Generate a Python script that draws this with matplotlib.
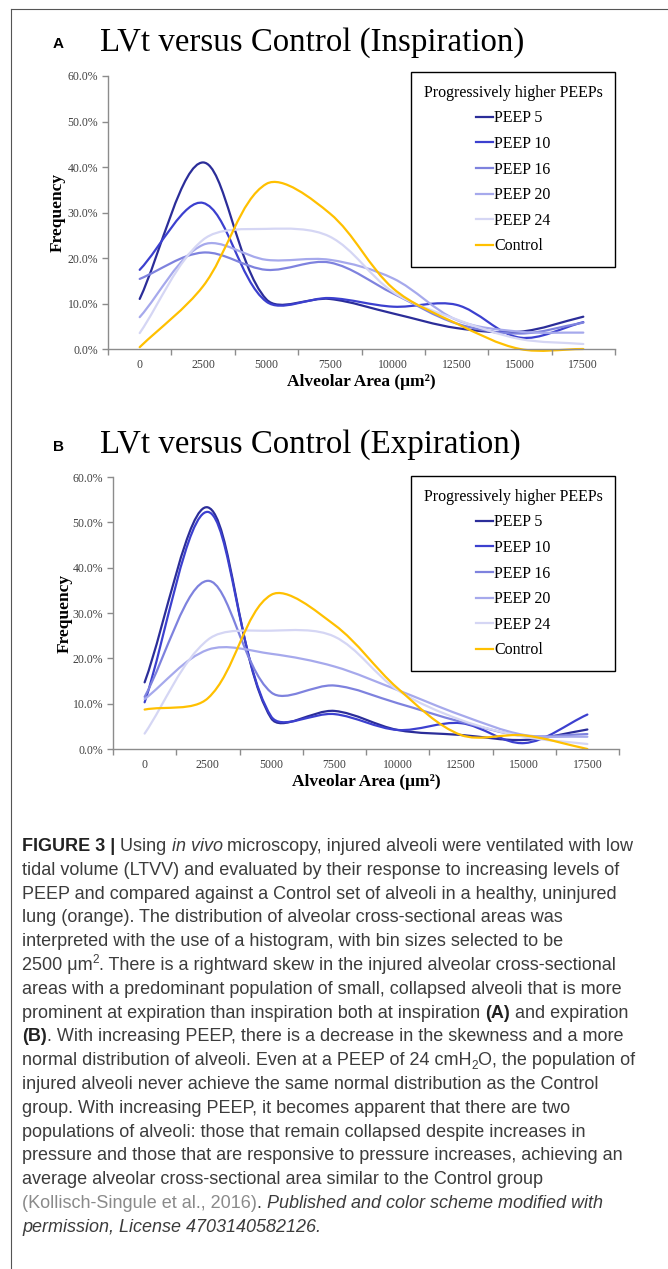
import matplotlib
matplotlib.use('Agg')
import matplotlib.pyplot as plt
from matplotlib.path import Path
from matplotlib.patches import PathPatch
from matplotlib.lines import Line2D
from matplotlib.font_manager import FontProperties
import numpy as np

W, H, DPI = 668, 1269, 100

# ---------------- data ----------------
categories = ['0', '2500', '5000', '7500', '10000', '12500', '15000', '17500']
series_names = ['PEEP 5', 'PEEP 10', 'PEEP 16', 'PEEP 20', 'PEEP 24', 'Control']
series_colors = ['#2B2D99', '#3C40CF', '#7E82DE', '#A6A9EC', '#D5D6F4', '#FFC000']
y_ticks = [0, 10, 20, 30, 40, 50, 60]

# Inspiration (A), frequency in %
insp_peep5 = [11.0, 41.0, 10.9, 11.0, 7.8, 4.6, 3.8, 7.1]
insp_peep10 = [17.4, 32.1, 10.4, 11.2, 9.3, 9.7, 2.5, 5.9]
insp_peep16 = [15.4, 21.2, 17.4, 19.0, 12.2, 5.6, 3.4, 5.8]
insp_peep20 = [7.0, 22.9, 19.6, 19.6, 15.5, 6.4, 3.8, 3.6]
insp_peep24 = [3.5, 24.0, 26.4, 24.7, 12.5, 6.5, 2.2, 1.1]
insp_control = [0.4, 13.8, 36.3, 29.8, 13.3, 5.6, 0.0, 0.0]

# Expiration (B), frequency in %
exp_peep5 = [14.7, 53.3, 6.8, 8.4, 4.2, 3.1, 2.0, 4.3]
exp_peep10 = [10.3, 52.3, 7.2, 7.7, 4.2, 5.7, 1.3, 7.6]
exp_peep16 = [11.5, 37.1, 12.5, 14.0, 10.1, 6.0, 2.9, 3.3]
exp_peep20 = [11.0, 21.9, 21.0, 18.2, 13.0, 7.5, 3.1, 2.7]
exp_peep24 = [3.4, 24.1, 26.1, 24.8, 13.0, 6.4, 2.7, 1.1]
exp_control = [8.7, 11.2, 34.0, 27.4, 13.4, 3.1, 3.0, 0.0]

insp_series = [insp_peep5, insp_peep10, insp_peep16, insp_peep20, insp_peep24, insp_control]
exp_series = [exp_peep5, exp_peep10, exp_peep16, exp_peep20, exp_peep24, exp_control]

SERIF = 'Liberation Serif'
SANS = 'Liberation Sans'
SPINE = '#8c8c8c'
TICKLBL = '#404040'

fig = plt.figure(figsize=(W / DPI, H / DPI), dpi=DPI)
fig.patch.set_facecolor('white')


def fx(px):
    return px / W


def fy(py):
    return 1 - py / H


def smooth_path(ax, xs, ys, k=1.0 / 3.0):
    """Excel-like smoothed line: Bezier segments with length-weighted tangents (screen space)."""
    d = ax.transData.transform(np.column_stack([np.asarray(xs, float), np.asarray(ys, float)]))
    n = len(d)
    before = [None] * n
    after = [None] * n
    for i in range(n):
        p_prev = d[i - 1] if i > 0 else d[i]
        p_next = d[i + 1] if i < n - 1 else d[i]
        t = p_next - p_prev
        l_prev = np.hypot(*(d[i] - p_prev))
        l_next = np.hypot(*(p_next - d[i]))
        tot = l_prev + l_next
        if tot == 0:
            before[i] = after[i] = d[i]
            continue
        before[i] = d[i] - t * (l_prev / tot) * k
        after[i] = d[i] + t * (l_next / tot) * k
    verts = [d[0]]
    codes = [Path.MOVETO]
    for i in range(n - 1):
        verts += [after[i], before[i + 1], d[i + 1]]
        codes += [Path.CURVE4] * 3
    verts = ax.transData.inverted().transform(np.array(verts))
    return Path(verts, codes)


def panel(left, top, right, bottom, series, ylabel_x, legend_xy):
    ax = fig.add_axes([fx(left), fy(bottom), (right - left) / W, (bottom - top) / H])
    x = np.arange(len(categories))
    ax.set_xlim(-0.5, len(categories) - 0.5)
    ax.set_ylim(0, 60)
    for vals, col in zip(series, series_colors):
        ax.add_patch(PathPatch(smooth_path(ax, x, vals), fill=False, edgecolor=col,
                               lw=1.6, joinstyle='round', capstyle='round', clip_on=False))
    for s in ['top', 'right']:
        ax.spines[s].set_visible(False)
    for s in ['left', 'bottom']:
        ax.spines[s].set_color(SPINE)
        ax.spines[s].set_linewidth(1.0)
    ax.set_xticks(np.arange(-0.5, len(categories), 1.0))
    ax.set_xticklabels([])
    ax.set_xticks(x, minor=True)
    ax.set_xticklabels(categories, minor=True)
    ax.tick_params(axis='x', which='major', length=4, width=1, color=SPINE, direction='out')
    ax.tick_params(axis='x', which='minor', length=0, pad=7)
    ax.set_yticks(y_ticks)
    ax.set_yticklabels([f'{v:.1f}%' for v in y_ticks])
    ax.tick_params(axis='y', length=4, width=1, color=SPINE, direction='out', pad=3)
    for lbl in ax.get_xticklabels(minor=True) + ax.get_yticklabels():
        lbl.set_fontfamily(SERIF)
        lbl.set_fontsize(8.5)
        lbl.set_color(TICKLBL)
    ax.set_xlabel('Alveolar Area (μm²)', fontfamily=SERIF, fontsize=12.5,
                  fontweight='bold', labelpad=2)
    fig.text(fx(ylabel_x), fy((top + bottom) / 2), 'Frequency', rotation=90,
             ha='center', va='center', fontfamily=SERIF, fontsize=12.5, fontweight='bold')
    handles = [Line2D([], [], color=c, lw=1.6) for c in series_colors]
    leg = ax.legend(handles, series_names, title='Progressively higher PEEPs',
                    loc='upper left', bbox_to_anchor=(fx(legend_xy[0]), fy(legend_xy[1])),
                    bbox_transform=fig.transFigure, borderaxespad=0,
                    prop={'family': SERIF, 'size': 11.5},
                    title_fontproperties={'family': SERIF, 'size': 11.5},
                    handlelength=1.1, handletextpad=0.05, labelspacing=0.6,
                    borderpad=0.8, fancybox=False, framealpha=1, edgecolor='black')
    leg.get_frame().set_linewidth(1.0)
    return ax


panel(108, 76, 615, 349, insp_series, 58, (411, 72))
panel(113, 477, 619, 749, exp_series, 65, (411, 476))

# Panel titles
fig.text(fx(53), fy(48.5), 'A', fontfamily=SANS, fontweight='bold', fontsize=11, va='baseline')
fig.text(fx(100), fy(51), 'LVt versus Control (Inspiration)', fontfamily=SERIF,
         fontsize=23.7, va='baseline')
fig.text(fx(53), fy(451), 'B', fontfamily=SANS, fontweight='bold', fontsize=11, va='baseline')
fig.text(fx(100), fy(453), 'LVt versus Control (Expiration)', fontfamily=SERIF,
         fontsize=23.7, va='baseline')

# Border lines
border = '#555555'
fig.add_artist(Line2D([fx(11), fx(W)], [fy(9), fy(9)], color=border, lw=0.8,
                      transform=fig.transFigure))
fig.add_artist(Line2D([fx(11), fx(11)], [fy(9), fy(H)], color=border, lw=0.8,
                      transform=fig.transFigure))

# Caption with mixed styles
renderer = fig.canvas.get_renderer()
CAP_SIZE = 13.0
CAP_COLOR = '#3c3c3c'
GRAY = '#8a8a8a'


def props(weight='normal', style='normal', size=CAP_SIZE):
    return FontProperties(family=SANS, weight=weight, style=style, size=size)


def seg_width(s, fp):
    w1, _, _ = renderer.get_text_width_height_descent('|' + s + '|', fp, ismath=False)
    w2, _, _ = renderer.get_text_width_height_descent('||', fp, ismath=False)
    return w1 - w2


def rich_line(x0, y0, segs):
    x = x0
    for seg in segs:
        text = seg[0]
        opt = seg[1] if len(seg) > 1 else {}
        fp = props(opt.get('weight', 'normal'), opt.get('style', 'normal'),
                   opt.get('size', CAP_SIZE))
        dy = opt.get('dy', 0)
        fig.text(fx(x), fy(y0 + dy), text, fontproperties=fp, va='baseline',
                 color=opt.get('color', CAP_COLOR))
        x += seg_width(text, fp)


B = {'weight': 'bold', 'color': '#222222'}
I = {'style': 'italic'}
SUP = {'size': 8.5, 'dy': -7}
SUB = {'size': 8.5, 'dy': 3.5}
G = {'color': GRAY}

caption = [
    [('FIGURE 3 | ', B), ('Using ',), ('in vivo', I),
     (' microscopy, injured alveoli were ventilated with low',)],
    [('tidal volume (LTVV) and evaluated by their response to increasing levels of',)],
    [('PEEP and compared against a Control set of alveoli in a healthy, uninjured',)],
    [('lung (orange). The distribution of alveolar cross-sectional areas was',)],
    [('interpreted with the use of a histogram, with bin sizes selected to be',)],
    [('2500 μm',), ('2', SUP), ('. There is a rightward skew in the injured alveolar cross-sectional',)],
    [('areas with a predominant population of small, collapsed alveoli that is more',)],
    [('prominent at expiration than inspiration both at inspiration ',), ('(A)', B),
     (' and expiration',)],
    [('(B)', B), ('. With increasing PEEP, there is a decrease in the skewness and a more',)],
    [('normal distribution of alveoli. Even at a PEEP of 24 cmH',), ('2', SUB),
     ('O, the population of',)],
    [('injured alveoli never achieve the same normal distribution as the Control',)],
    [('group. With increasing PEEP, it becomes apparent that there are two',)],
    [('populations of alveoli: those that remain collapsed despite increases in',)],
    [('pressure and those that are responsive to pressure increases, achieving an',)],
    [('average alveolar cross-sectional area similar to the Control group',)],
    [('(Kollisch-Singule et al., 2016)', G), ('. ',), ('Published and color scheme modified with', I)],
    [('permission, License 4703140582126.', I)],
]

for i, line in enumerate(caption):
    rich_line(22, 851 + 23.8 * i, line)

fig.savefig('out.png', dpi=DPI)
